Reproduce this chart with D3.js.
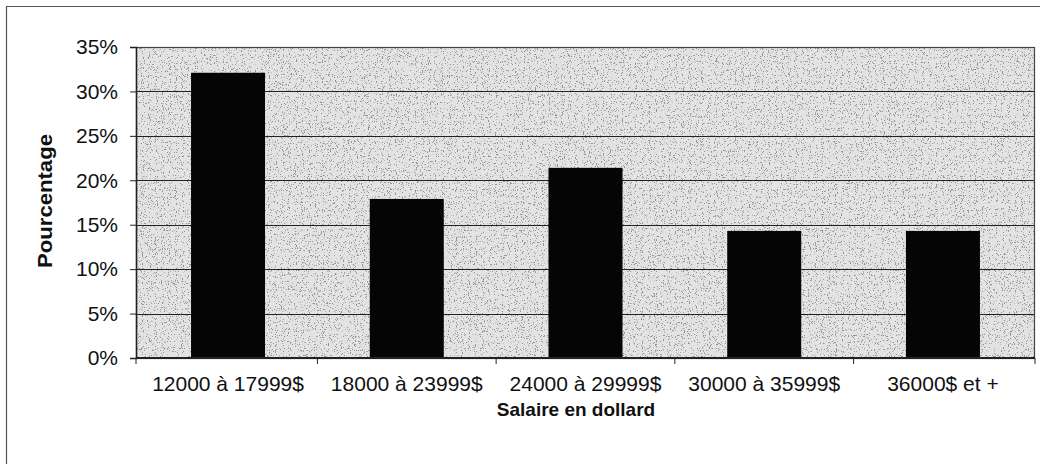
<!DOCTYPE html>
<html>
<head>
<meta charset="utf-8">
<title>Salaire en dollard</title>
<script src="https://cdn.jsdelivr.net/npm/d3@7"></script>
<style>
  body { margin: 0; background: #fff; }
  text { font-family: "Liberation Sans", Arial, sans-serif; fill: #111; }
</style>
</head>
<body>
<script>
// data
var categories = ["12000 à 17999$", "18000 à 23999$", "24000 à 29999$", "30000 à 35999$", "36000$ et +"];
var percentages = [32.1, 17.9, 21.4, 14.3, 14.3];
var yTicks = [0, 5, 10, 15, 20, 25, 30, 35];

var width = 1043, height = 467;
var margin = {left: 136, right: 8, top: 47, bottom: 109};

var svg = d3.select("body").append("svg")
    .attr("width", width)
    .attr("height", height);

// speckled background like the scanned fill
var defs = svg.append("defs");
var f = defs.append("filter").attr("id", "speckle")
    .attr("x", 0).attr("y", 0).attr("width", 1).attr("height", 1);
f.append("feTurbulence").attr("type", "fractalNoise")
    .attr("baseFrequency", 0.85).attr("numOctaves", 2).attr("seed", 3).attr("result", "n");
f.append("feColorMatrix").attr("in", "n").attr("type", "matrix")
    .attr("values", "0 0 0 0 0.3  0 0 0 0 0.3  0 0 0 0 0.3  -15 0 0 0 5.8")
    .attr("result", "dots");
f.append("feComposite").attr("in", "dots").attr("in2", "SourceGraphic").attr("operator", "in");

// outer frame (top and left only visible)
svg.append("line").attr("x1", 6).attr("x2", 1040).attr("y1", 6.5).attr("y2", 6.5)
    .attr("stroke", "#555").attr("stroke-width", 1);
svg.append("line").attr("x1", 6.5).attr("x2", 6.5).attr("y1", 6).attr("y2", 464)
    .attr("stroke", "#555").attr("stroke-width", 1.2);

var plotW = width - margin.right - margin.left;
var plotH = height - margin.bottom - margin.top;

var x = d3.scaleBand()
    .domain(categories)
    .range([margin.left, width - margin.right])
    .paddingInner(0.586)
    .paddingOuter(0.308);

var y = d3.scaleLinear()
    .domain([0, 35])
    .range([height - margin.bottom, margin.top]);

var g = svg.append("g");
g.append("rect")
    .attr("x", margin.left).attr("y", margin.top)
    .attr("width", plotW).attr("height", plotH)
    .attr("fill", "#e3e3e3");
g.append("rect")
    .attr("x", margin.left).attr("y", margin.top)
    .attr("width", plotW).attr("height", plotH)
    .attr("fill", "#ffffff")
    .attr("filter", "url(#speckle)");

// gridlines
g.selectAll(".grid").data(yTicks.slice(1, -1)).enter().append("line")
    .attr("class", "grid")
    .attr("x1", margin.left).attr("x2", width - margin.right)
    .attr("y1", function(d) { return Math.round(y(d)) + 0.5; })
    .attr("y2", function(d) { return Math.round(y(d)) + 0.5; })
    .attr("stroke", "#222").attr("stroke-width", 1);

// plot border
g.append("rect")
    .attr("x", margin.left + 0.5).attr("y", margin.top + 0.5)
    .attr("width", plotW - 1).attr("height", plotH)
    .attr("fill", "none").attr("stroke", "#444").attr("stroke-width", 1.2);

// bars
g.selectAll(".bar").data(percentages).enter().append("rect")
    .attr("class", "bar")
    .attr("x", function(d, i) { return x(categories[i]); })
    .attr("y", function(d) { return y(d); })
    .attr("width", x.bandwidth())
    .attr("height", function(d) { return y(0) - y(d); })
    .attr("fill", "#050505");

// y axis
var yAxis = d3.axisLeft(y).tickValues(yTicks)
    .tickFormat(function(d) { return d + "%"; })
    .tickSize(6).tickPadding(12);
var ya = svg.append("g").attr("transform", "translate(" + margin.left + ",0)").call(yAxis);
ya.select(".domain").attr("stroke", "#222").attr("stroke-width", 1.5);
ya.selectAll(".tick line").attr("stroke", "#222");
ya.selectAll("text").style("font-size", "21px").attr("fill", "#111");

// x axis with ticks between the bars
var xa = svg.append("g").attr("transform", "translate(0," + y(0) + ")");
xa.append("line").attr("x1", margin.left).attr("x2", width - margin.right)
    .attr("stroke", "#222").attr("stroke-width", 2);
var gap = x.step() - x.bandwidth();
var edges = [margin.left].concat(categories.slice(1).map(function(c) { return x(c) - gap / 2; }), [width - margin.right]);
xa.selectAll(".xt").data(edges).enter().append("line")
    .attr("x1", function(d) { return d; }).attr("x2", function(d) { return d; })
    .attr("y1", 0).attr("y2", 6).attr("stroke", "#222");
xa.selectAll(".xl").data(categories).enter().append("text")
    .attr("x", function(d) { return x(d) + x.bandwidth() / 2; })
    .attr("y", 33)
    .attr("text-anchor", "middle")
    .style("font-size", "21px")
    .text(function(d) { return d; });

// axis titles
svg.append("text")
    .attr("x", 576).attr("y", 416)
    .attr("text-anchor", "middle")
    .style("font-size", "19px").style("font-weight", "bold")
    .text("Salaire en dollard");
svg.append("text")
    .attr("transform", "translate(52,201) rotate(-90)")
    .attr("text-anchor", "middle")
    .attr("textLength", 134).attr("lengthAdjust", "spacingAndGlyphs")
    .style("font-size", "20px").style("font-weight", "bold")
    .text("Pourcentage");
</script>
</body>
</html>
